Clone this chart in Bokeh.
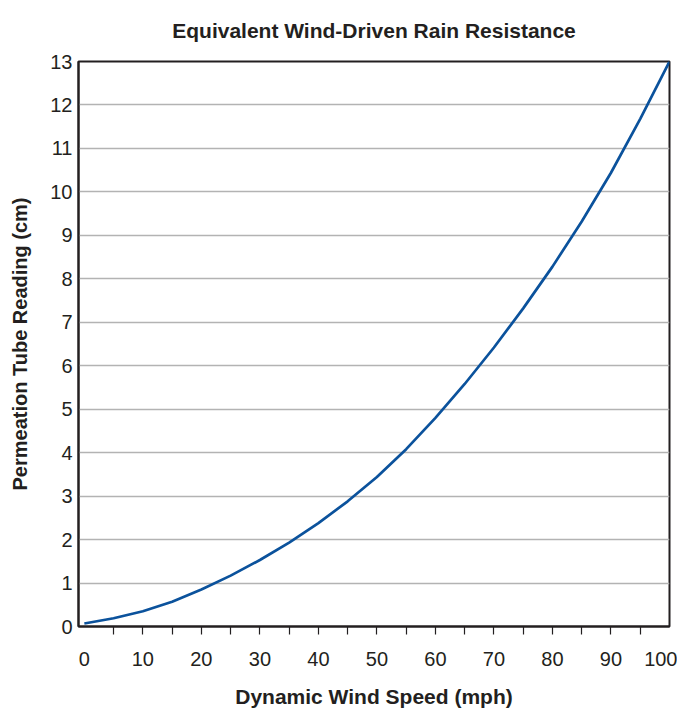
from bokeh.plotting import figure
from bokeh.models import FixedTicker, Range1d
from bokeh.embed import file_html
from bokeh.resources import INLINE

# Data
wind_speed = [0, 5, 10, 15, 20, 25, 30, 35, 40, 45, 50, 55, 60, 65, 70, 75, 80, 85, 90, 95, 100]
tube_reading = [0.07, 0.19, 0.35, 0.57, 0.85, 1.17, 1.53, 1.93, 2.38, 2.88, 3.44, 4.08,
                4.80, 5.58, 6.42, 7.32, 8.28, 9.32, 10.44, 11.68, 13.0]
x_tick_values = [0, 10, 20, 30, 40, 50, 60, 70, 80, 90, 100]
x_minor_tick_values = [5, 10, 15, 20, 25, 30, 35, 40, 45, 50, 55, 60, 65, 70, 75, 80, 85, 90, 95]
y_tick_values = list(range(0, 14))

FONT = "Liberation Sans"
TEXT = "#231f20"

p = figure(width=677, height=711, output_backend="svg", toolbar_location=None,
           x_range=Range1d(-1, 100), y_range=Range1d(0, 13),
           min_border_left=78, min_border_right=8, min_border_top=61, min_border_bottom=85)

p.line(wind_speed, tube_reading, line_color="#0b529c", line_width=2.7)

p.title.text = "Equivalent Wind-Driven Rain Resistance"
p.title.align = "center"
p.title.vertical_align = "top"
p.title.text_font = FONT
p.title.text_font_size = "21px"
p.title.text_font_style = "bold"
p.title.text_color = TEXT
p.title.standoff = 35
p.title.offset = 0

p.outline_line_color = TEXT
p.outline_line_width = 2
p.outline_line_alpha = 1

# x axis
xa = p.xaxis[0]
xa.ticker = FixedTicker(ticks=x_tick_values, minor_ticks=x_minor_tick_values)
xa.axis_line_color = TEXT
xa.axis_line_width = 2
xa.major_tick_line_color = None
xa.major_tick_out = 8
xa.major_tick_in = 0
xa.minor_tick_line_color = TEXT
xa.minor_tick_line_width = 1.2
xa.minor_tick_out = 8
xa.minor_tick_in = 0
xa.major_label_standoff = 17
xa.major_label_text_font = FONT
xa.major_label_text_font_size = "20px"
xa.major_label_text_color = TEXT
xa.axis_label = "Dynamic Wind Speed (mph)"
xa.axis_label_text_font = FONT
xa.axis_label_text_font_size = "21px"
xa.axis_label_text_font_style = "bold"
xa.axis_label_text_color = TEXT
xa.axis_label_standoff = 16

# y axis
ya = p.yaxis[0]
ya.ticker = FixedTicker(ticks=y_tick_values, minor_ticks=[])
ya.axis_line_color = TEXT
ya.axis_line_width = 2
ya.major_tick_line_color = None
ya.major_tick_out = 0
ya.major_tick_in = 0
ya.minor_tick_line_color = None
ya.major_label_standoff = 6
ya.major_label_text_font = FONT
ya.major_label_text_font_size = "20px"
ya.major_label_text_color = TEXT
ya.axis_label = "Permeation Tube Reading (cm)"
ya.axis_label_text_font = FONT
ya.axis_label_text_font_size = "20px"
ya.axis_label_text_font_style = "bold"
ya.axis_label_text_color = TEXT
ya.axis_label_standoff = 16

p.xgrid.grid_line_color = None
p.ygrid.grid_line_color = "#b3b3b3"
p.ygrid.grid_line_width = 1.5

open("out.html", "w").write(file_html(p, INLINE))
